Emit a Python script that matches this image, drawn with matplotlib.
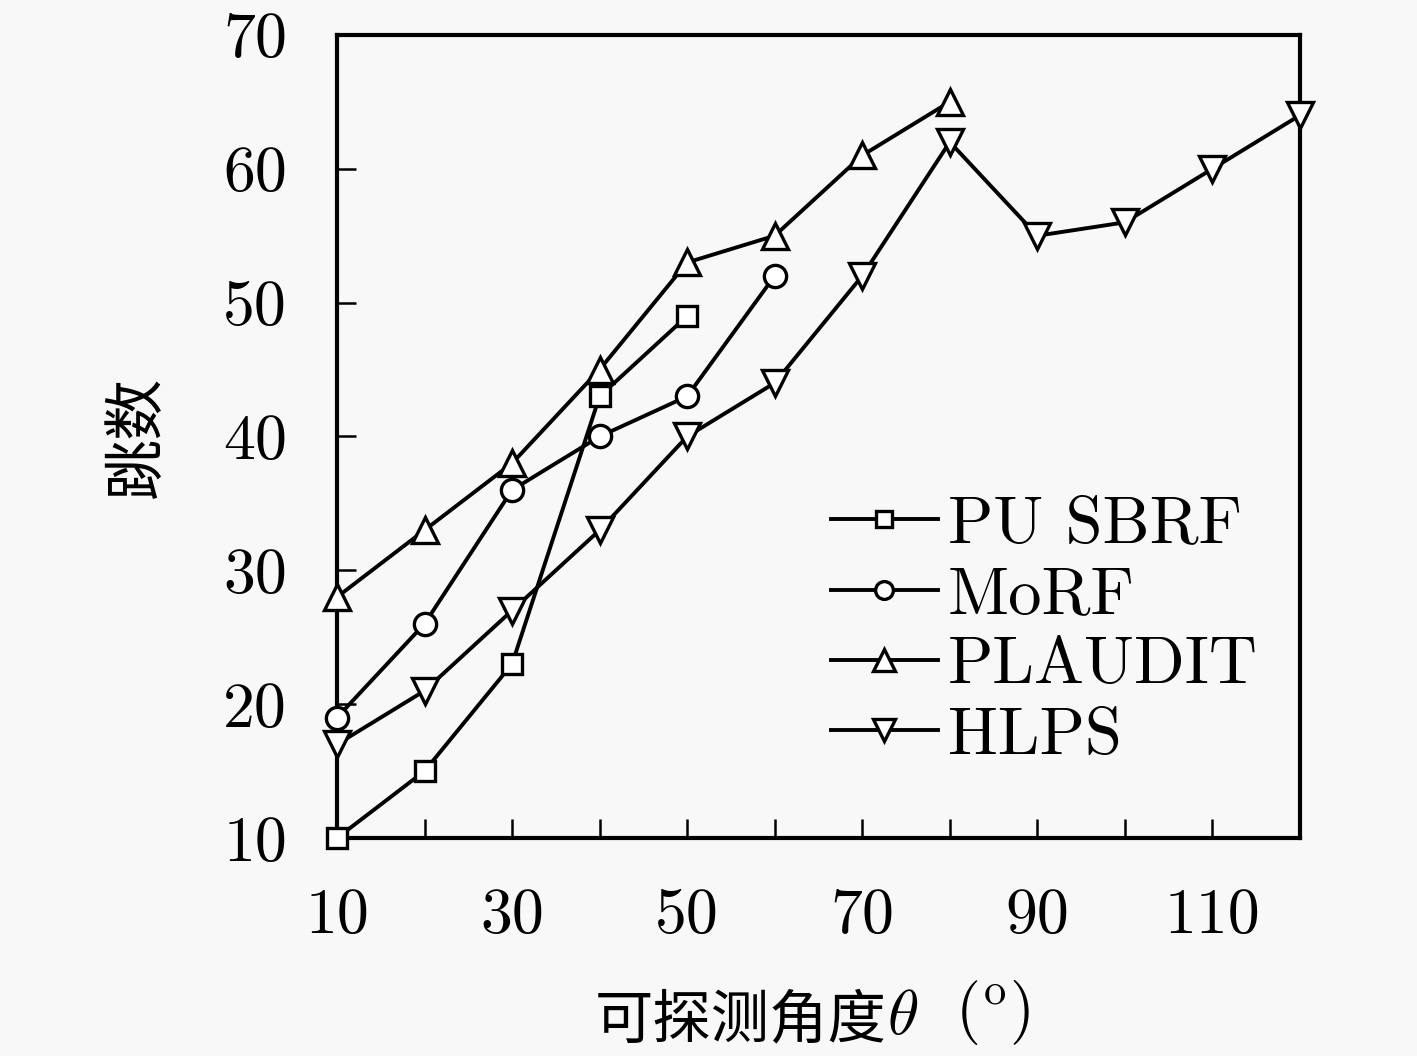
import matplotlib
matplotlib.use("Agg")
import matplotlib.pyplot as plt

plt.rcParams['mathtext.fontset'] = 'cm'
plt.rcParams['axes.formatter.use_mathtext'] = True

x_pu = [10, 20, 30, 40, 50]
y_pu = [10, 15, 23, 43, 49]
x_morf = [10, 20, 30, 40, 50, 60]
y_morf = [19, 26, 36, 40, 43, 52]
x_plaudit = [10, 20, 30, 40, 50, 60, 70, 80]
y_plaudit = [28, 33, 38, 45, 53, 55, 61, 65]
x_hlps = [10, 20, 30, 40, 50, 60, 70, 80, 90, 100, 110, 120]
y_hlps = [17, 21, 27, 33, 40, 44, 52, 62, 55, 56, 60, 64]

labels = ['PU SBRF', 'MoRF', 'PLAUDIT', 'HLPS']
x_ticks = list(range(10, 121, 10))
x_ticklabels = ['10', '', '30', '', '50', '', '70', '', '90', '', '110', '']
y_ticks = [10, 20, 30, 40, 50, 60, 70]

fam = ['cmr10', 'Noto Sans CJK SC', 'DejaVu Sans']
cjk = ['Noto Sans CJK SC', 'DejaVu Sans']

fig = plt.figure(figsize=(14.17, 10.56), dpi=100)
fig.patch.set_facecolor('#f8f8f8')
ax = fig.add_axes([0.2378, 0.2064, 0.9174 - 0.2378, 0.9669 - 0.2064])
ax.set_facecolor('#f8f8f8')

common = dict(color='black', lw=2.8, markerfacecolor='white',
              markeredgecolor='black', markeredgewidth=2.4, clip_on=False, zorder=3)
ax.plot(x_pu, y_pu, marker='s', markersize=14, label=labels[0], **common)
ax.plot(x_morf, y_morf, marker='o', markersize=16, label=labels[1], **common)
ax.plot(x_plaudit, y_plaudit, marker='^', markersize=19, label=labels[2], **common)
ax.plot(x_hlps, y_hlps, marker='v', markersize=19, label=labels[3], **common)

ax.set_xlim(10, 120)
ax.set_ylim(10, 70)
ax.set_xticks(x_ticks)
ax.set_xticklabels(x_ticklabels)
ax.set_yticks(y_ticks)
ax.set_yticklabels([str(v) for v in y_ticks])
ax.tick_params(axis='both', direction='in', length=14, width=1.8, labelsize=46,
               top=False, right=False)
ax.tick_params(axis='x', pad=36)
ax.tick_params(axis='y', pad=36)
for lab in ax.get_xticklabels() + ax.get_yticklabels():
    lab.set_family(fam)
for sp in ax.spines.values():
    sp.set_linewidth(3)

ax.set_ylabel('跳数', fontsize=44, family=cjk, labelpad=39)

# x label composed of CJK text + math theta + unit
t1 = fig.text(0.42, 0.004, '可探测角度', fontsize=42, family=cjk, ha='left', va='bottom')
t2 = ax.annotate('$\\theta$', xy=(1, 0.08), xycoords=t1, fontsize=46,
                 ha='left', va='bottom', annotation_clip=False)
t3 = ax.annotate('$\\ \\ (^{\\rm o})$', xy=(1, 0.0), xycoords=t2, fontsize=46,
                 ha='left', va='bottom', annotation_clip=False)

leg = ax.legend(loc='lower right', bbox_to_anchor=(0.956, 0.089), frameon=False,
                prop={'family': fam, 'size': 48}, handlelength=1.6, handletextpad=0.15,
                labelspacing=0.16, borderaxespad=0.0, borderpad=0.0)
for h in leg.legend_handles:
    h.set_markersize(h.get_markersize() * 0.8)

fig.savefig('out.png', dpi=100, facecolor=fig.get_facecolor())
